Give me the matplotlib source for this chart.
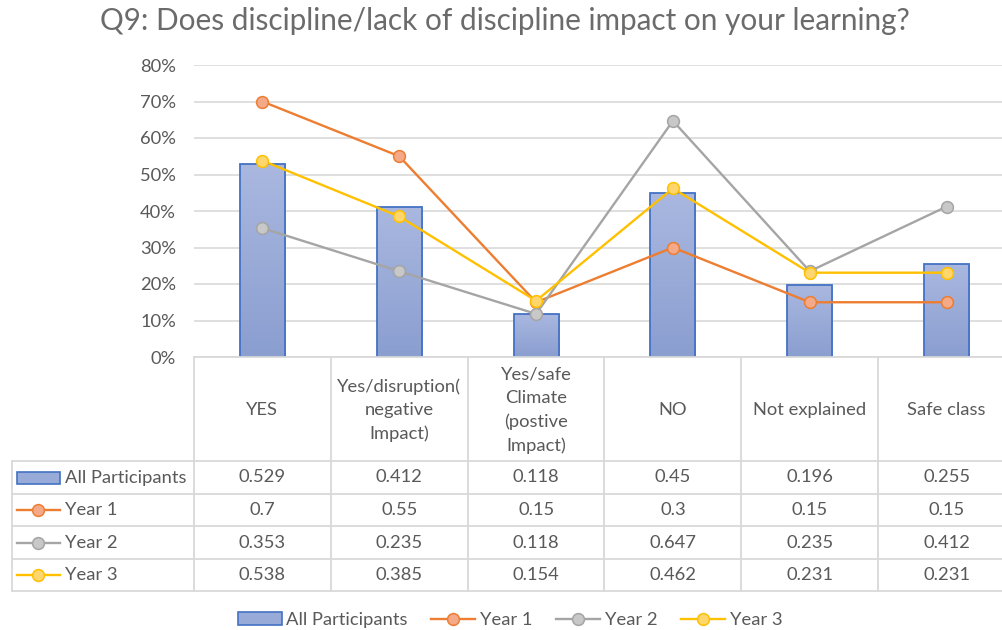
import numpy as np
import matplotlib
matplotlib.use("Agg")
import matplotlib.pyplot as plt
from matplotlib.colors import LinearSegmentedColormap
from matplotlib.patches import Rectangle
from matplotlib.lines import Line2D

plt.rcParams['font.family'] = ['Lato', 'DejaVu Sans']

categories = ["YES", "Yes/disruption(\nnegative\nImpact)", "Yes/safe\nClimate\n(postive\nImpact)",
              "NO", "Not explained", "Safe class"]
all_participants = [0.529, 0.412, 0.118, 0.45, 0.196, 0.255]
year1 = [0.7, 0.55, 0.15, 0.3, 0.15, 0.15]
year2 = [0.353, 0.235, 0.118, 0.647, 0.235, 0.412]
year3 = [0.538, 0.385, 0.154, 0.462, 0.231, 0.231]
series_names = ["All Participants", "Year 1", "Year 2", "Year 3"]
yticks = [0, 0.1, 0.2, 0.3, 0.4, 0.5, 0.6, 0.7, 0.8]

W, H = 1002, 630
FS = 13.2
txt = '#595959'
grid = '#D9D9D9'
line_cols = ['#ED7D31', '#A5A5A5', '#FFC000']
fill_cols = ['#F4A988', '#C8C8C8', '#FFD66E']

fig = plt.figure(figsize=(W / 100, H / 100), dpi=100)
# plot area in pixels: left 194, right 1015 (cut off by the image edge), top 65, bottom 357
ax = fig.add_axes([194 / W, (H - 357) / H, (1015 - 194) / W, (357 - 65) / H])
x = np.arange(len(categories))

bars = ax.bar(x, all_participants, width=0.33, color='none', edgecolor='#4472C4', linewidth=1.3, zorder=3)
cmap = LinearSegmentedColormap.from_list('g', ['#8A9ED0', '#AAB8E0'])
grad = np.linspace(0, 1, 100).reshape(-1, 1)
for b in bars:
    im = ax.imshow(grad, extent=[b.get_x(), b.get_x() + b.get_width(), 0, b.get_height()],
                   origin='lower', aspect='auto', cmap=cmap, zorder=2)
    im.set_clip_path(b)

for vals, lc, fc in zip([year1, year2, year3], line_cols, fill_cols):
    ax.plot(x, vals, color=lc, lw=1.7, marker='o', ms=8.5, mfc=fc, mec=lc, mew=1.1, zorder=4)

ax.set_xlim(-0.5, len(categories) - 0.5)
ax.set_ylim(0, 0.8)
ax.set_yticks(yticks)
ax.set_yticklabels([f"{int(round(v * 100))}%" for v in yticks], color=txt, fontsize=FS)
ax.tick_params(axis='y', length=0, pad=13)
ax.set_xticks([])
ax.yaxis.grid(True, color=grid, lw=1.2)
ax.set_axisbelow(True)
for s in ax.spines.values():
    s.set_visible(False)

fig.text(505 / W, 1 - 21 / H, "Q9: Does discipline/lack of discipline impact on your learning?",
         ha='center', va='center', fontsize=21.4, color='#6B6B6B')

# data table drawn on a pixel overlay
ov = fig.add_axes([0, 0, 1, 1], zorder=5)
ov.set_xlim(0, W)
ov.set_ylim(H, 0)
ov.axis('off')
ov.patch.set_alpha(0)

fig.canvas.draw()
edges = [ax.transData.transform((i - 0.5, 0))[0] for i in range(len(categories) + 1)]
centers = [ax.transData.transform((i, 0))[0] for i in range(len(categories))]
row_y = [357, 461, 494, 526, 559, 591]
left = 12

for yy in row_y:
    ov.plot([left if yy > 357 else edges[0], edges[-1]], [yy, yy], color=grid, lw=1.3)
ov.plot([left, left], [row_y[1], row_y[-1]], color=grid, lw=1.3)
for ex in edges:
    ov.plot([ex, ex], [row_y[0], row_y[-1]], color=grid, lw=1.3)

for cx, cat in zip(centers, categories):
    ov.text(cx, (row_y[0] + row_y[1]) / 2 + 1, cat, ha='center', va='center', fontsize=FS,
            color=txt, linespacing=1.55)

table_rows = [all_participants, year1, year2, year3]
for r, (name, vals) in enumerate(zip(series_names, table_rows)):
    yc = (row_y[r + 1] + row_y[r + 2]) / 2
    for cx, v in zip(centers, vals):
        ov.text(cx, yc, f"{v:g}", ha='center', va='center', fontsize=FS, color=txt)
    ov.text(65, yc, name, ha='left', va='center', fontsize=FS, color=txt)
    if r == 0:
        ov.add_patch(Rectangle((17, yc - 6), 43, 12, facecolor='#98AAD8', edgecolor='#4472C4', lw=1.2))
    else:
        ov.plot([17, 60], [yc, yc], color=line_cols[r - 1], lw=1.7)
        ov.plot([38.5], [yc], marker='o', ms=8.5, mfc=fill_cols[r - 1], mec=line_cols[r - 1], mew=1.1)

handles = [Rectangle((0, 0), 1, 1, facecolor='#98AAD8', edgecolor='#4472C4', lw=1.2)]
for lc, fc in zip(line_cols, fill_cols):
    handles.append(Line2D([], [], color=lc, lw=1.7, marker='o', ms=8.5, mfc=fc, mec=lc, mew=1.1))
leg = fig.legend(handles, series_names, loc='center', bbox_to_anchor=(510 / W, 1 - 620 / H), ncol=4,
                 frameon=False, fontsize=FS, handlelength=2.4, handletextpad=0.25, columnspacing=1.3,
                 numpoints=1)
for t in leg.get_texts():
    t.set_color(txt)

fig.savefig("out.png", dpi=100)
